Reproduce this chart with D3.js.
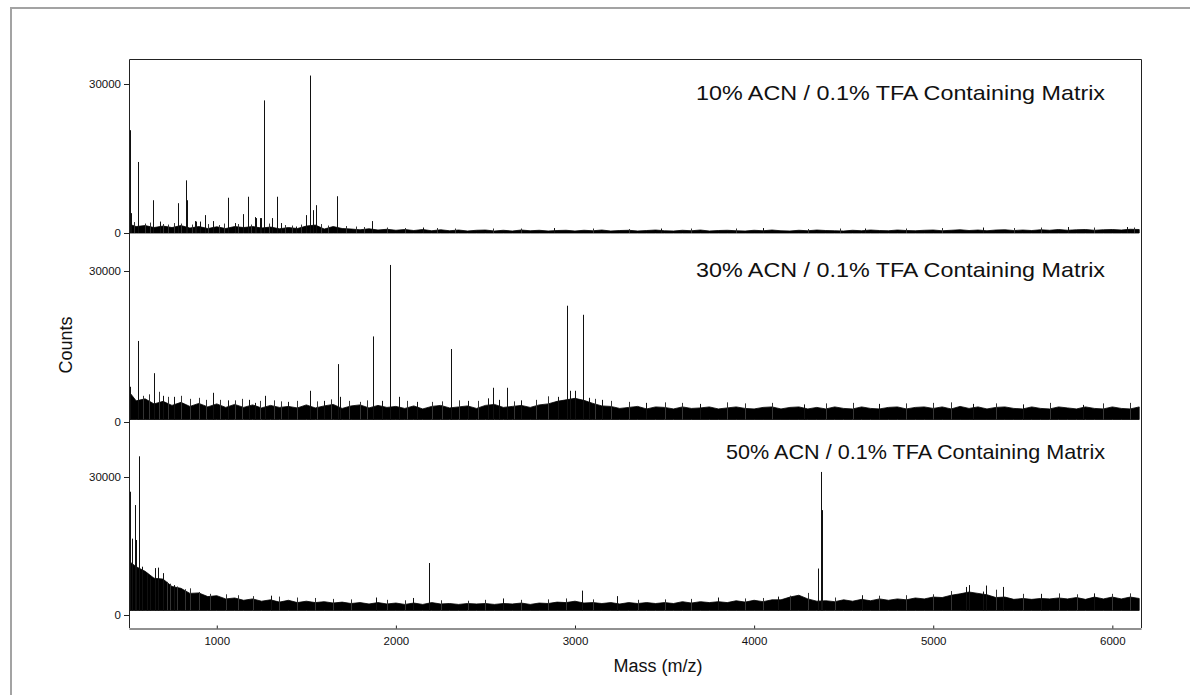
<!DOCTYPE html>
<html>
<head>
<meta charset="utf-8">
<script src="https://cdn.jsdelivr.net/npm/d3@7"></script>
<style>
  body { margin: 0; background: #fff; }
  svg { display: block; font-family: "Liberation Sans", Arial, sans-serif; }
</style>
</head>
<body>
<svg id="chart" width="1190" height="695"></svg>
<script>
// ---- data ----
var massTicks = [1000, 2000, 3000, 4000, 5000, 6000];
var countTicks = [0, 30000];
var panelTitles = [
  "10% ACN / 0.1% TFA Containing Matrix",
  "30% ACN / 0.1% TFA Containing Matrix",
  "50% ACN / 0.1% TFA Containing Matrix"
];

// noise band: top of the baseline, one value every 50 Da from m/z 500
var noiseStart = 500, noiseStep = 50;
var noise10 = [
  1900, 1300, 1500, 1100, 1400, 1100, 1500, 1000, 1300, 900,
  1250, 900, 1300, 1100, 1300, 1000, 1200, 850, 1100, 900,
  1400, 1600, 800, 1300, 900, 800, 650, 850, 600, 750,
  550, 700, 500, 700, 450, 650, 450, 600, 400, 550,
  600, 400, 550, 400, 600, 450, 550, 400, 500, 550,
  400, 550, 450, 600, 400, 500, 550, 400, 500, 600,
  450, 400, 550, 450, 600, 400, 500, 550, 450, 400,
  550, 450, 600, 450, 400, 550, 450, 600, 500, 450,
  400, 550, 450, 600, 500, 450, 600, 500, 450, 550,
  600, 450, 550, 650, 500, 600, 450, 600, 650, 500,
  600, 500, 650, 550, 700, 550, 650, 700, 550, 650,
  700, 600, 750, 700
];
var noise30 = [
  6500, 4200, 4600, 3600, 4100, 3300, 3900, 3100, 3700, 3000,
  3600, 2900, 3500, 2900, 3400, 2800, 3300, 2900, 3100, 2800,
  3400, 2800, 3200, 3500, 2700, 3200, 3400, 2800, 3300, 2900,
  3100, 2700, 3200, 2600, 3100, 3300, 2800, 3000, 3200, 2700,
  3300, 3500, 2900, 3100, 3300, 2900, 3400, 3600, 4100, 4400,
  4700, 4300, 3700, 3200, 3100, 2700, 2900, 3100, 2600, 3000,
  2900, 2600, 3000, 2700, 2800, 3000, 2600, 2800, 3000, 2700,
  2600, 2900, 3000, 2600, 2900, 3000, 2600, 2900, 2600, 3000,
  2700, 2600, 3000, 2700, 2600, 2900, 3000, 2600, 2900, 3000,
  2700, 3000, 2600, 3100, 2700, 3000, 2600, 2900, 3000, 2700,
  2600, 3000, 2700, 2600, 3000, 2800, 2600, 3000, 2700, 2600,
  3000, 2700, 2600, 3000
];
var noise50 = [
  12000, 10500, 9500, 8000, 7800, 6200, 5800, 4700, 4800, 4000,
  4200, 3500, 3700, 3200, 3500, 3000, 3300, 2800, 3200, 2700,
  3000, 2700, 2900, 2600, 2800, 2500, 2700, 2400, 2700, 2400,
  2600, 2300, 2600, 2300, 2700, 2400, 2500, 2300, 2500, 2400,
  2500, 2300, 2500, 2400, 2600, 2300, 2600, 2500, 2800, 2700,
  3000, 2600, 2700, 2500, 2700, 2400, 2700, 2500, 2700, 2500,
  2700, 2500, 2900, 2600, 2900, 2700, 2900, 2700, 3100, 2800,
  3200, 2900, 3300, 3300, 3900, 4300, 3500, 3000, 3100, 2900,
  3300, 3000, 3400, 3100, 3500, 3200, 3500, 3300, 3700, 3500,
  3900, 3800, 4300, 4600, 5000, 4700, 4400, 3800, 3900, 3400,
  3600, 3400, 3600, 3500, 3700, 3500, 3800, 3400, 3900, 3500,
  3900, 3500, 3900, 3600
];
// bottom of the noise band (baseline offset), counts
var floor10 = 0, floor30 = 500, floor50 = 1000;

// main peaks: [m/z, counts]
var peaks10 = [
  [513, 20700], [520, 4000], [559, 14300], [646, 6600], [683, 2300], [782, 6000],
  [828, 10600], [833, 6600], [880, 2400], [884, 2300], [906, 2300], [933, 3600],
  [977, 2400], [1064, 7100], [1102, 2000], [1148, 3800], [1176, 7300], [1213, 3200],
  [1219, 3000], [1241, 3000], [1247, 3000], [1265, 26700], [1310, 3000], [1335, 7300],
  [1359, 2000], [1445, 1300], [1498, 3600], [1520, 31700], [1537, 4600], [1554, 5600],
  [1670, 7400], [1674, 3300], [1868, 2400], [2150, 1100], [2880, 1000], [3480, 900],
  [4050, 1000], [4620, 900], [5280, 1100], [5750, 1200], [6080, 1200]
];
var peaks30 = [
  [512, 21300], [518, 7000], [562, 16100], [650, 9700], [700, 5200], [760, 5000],
  [981, 5800], [1060, 4300], [1182, 4400], [1213, 3800], [1269, 5200], [1400, 4000],
  [1520, 6200], [1600, 4200], [1675, 11500], [1690, 5000], [1870, 17000], [1920, 4200],
  [1967, 31200], [2017, 5000], [2120, 4000], [2308, 14500], [2400, 4200], [2516, 4700],
  [2544, 6800], [2574, 4400], [2619, 6800], [2700, 4300], [2907, 5000], [2954, 23100],
  [2972, 6200], [2998, 6200], [3043, 21300], [3080, 4800], [3149, 4400], [3397, 3800],
  [3700, 3600], [4280, 3500], [4700, 3600], [5222, 3600], [5500, 3500], [5836, 3400]
];
var peaks50 = [
  [517, 26800], [527, 16600], [543, 23900], [549, 16300], [564, 34500], [581, 10500],
  [609, 9100], [627, 8000], [655, 10200], [674, 10300], [701, 9100], [760, 6500],
  [1300, 4200], [1890, 3800], [2097, 3700], [2187, 11300], [2600, 3600], [3037, 5300],
  [3236, 4100], [3800, 3800], [4133, 4000], [4358, 10100], [4373, 31100], [4380, 22800],
  [4600, 4300], [5183, 6100], [5201, 6500], [5277, 5100], [5294, 6400], [5391, 6100],
  [5600, 4600], [5900, 4700]
];

// small baseline spikes ("grass"): [m/z, counts]
var grass10 = [
  [540, 2200], [600, 1900], [625, 2100], [700, 1800], [730, 1700], [760, 2000],
  [800, 1900], [860, 1700], [950, 1800], [1010, 1600], [1040, 1900], [1120, 1800],
  [1190, 1700], [1290, 1900], [1380, 1600], [1420, 1500], [1470, 1700], [1580, 1800],
  [1620, 1500], [1720, 1400], [1780, 1300], [1820, 1200], [1950, 1100], [2050, 1000],
  [2230, 1000], [2330, 900], [2540, 900], [2700, 900], [3100, 900], [3300, 800],
  [3650, 900], [3900, 900], [4300, 800], [4480, 900], [4850, 900], [5050, 1000],
  [5450, 1000], [5600, 1100], [5900, 1100], [6120, 1100]
];
var grass30 = [
  [590, 5200], [620, 5500], [680, 6000], [730, 5000], [800, 5200], [850, 4600],
  [900, 4800], [940, 4400], [1020, 4400], [1100, 4300], [1140, 4600], [1240, 4200],
  [1320, 4300], [1360, 4100], [1450, 4200], [1560, 4100], [1640, 4500], [1740, 4200],
  [1800, 4000], [1840, 4300], [2060, 4200], [2200, 4000], [2260, 4100], [2350, 4300],
  [2460, 4200], [2660, 4100], [2780, 4400], [2850, 5100], [3110, 4600], [3200, 4200],
  [3300, 4000], [3500, 3900], [3600, 3800], [3850, 3900], [3950, 3700], [4100, 3800],
  [4400, 3700], [4550, 3800], [4850, 3700], [5000, 3800], [5100, 3900], [5350, 3700],
  [5650, 3800], [5950, 3700], [6100, 3800]
];
var grass50 = [
  [720, 7200], [740, 6800], [780, 6200], [820, 5600], [850, 5800], [900, 5000],
  [960, 4600], [1050, 4500], [1120, 4300], [1200, 4100], [1350, 4000], [1450, 3800],
  [1550, 3700], [1650, 3500], [1750, 3400], [1950, 3300], [2050, 3200], [2250, 3200],
  [2400, 3100], [2500, 3300], [2700, 3300], [2850, 3400], [2950, 3600], [3100, 3400],
  [3350, 3300], [3500, 3400], [3650, 3500], [3950, 3600], [4050, 3700], [4200, 4200],
  [4300, 4800], [4450, 3800], [4700, 4200], [4850, 4300], [5000, 4500], [5100, 5200],
  [5350, 5500], [5500, 4600], [5700, 4700], [5800, 4500], [6000, 4600], [6100, 4700]
];

// ---- layout ----
var svg = d3.select("#chart");

var x = d3.scaleLinear()
    .domain([510, 6160])
    .range([129, 1141]);

var layout = [
  {top: 84, zero: 233, titleY: 100, titleW: 409},
  {top: 271, zero: 422, titleY: 277, titleW: 409},
  {top: 477, zero: 615, titleY: 459, titleW: 379}
];

var series = [
  {title: panelTitles[0], noise: noise10, floor: floor10, peaks: peaks10, grass: grass10},
  {title: panelTitles[1], noise: noise30, floor: floor30, peaks: peaks30, grass: grass30},
  {title: panelTitles[2], noise: noise50, floor: floor50, peaks: peaks50, grass: grass50}
];

// grey figure border (only left and top are in frame)
svg.append("path")
    .attr("d", "M11,700V8H1200")
    .attr("fill", "none")
    .attr("stroke", "#a3a3a3")
    .attr("stroke-width", 2);

svg.append("defs").append("clipPath")
    .attr("id", "plot")
  .append("rect")
    .attr("x", 130)
    .attr("y", 40)
    .attr("width", 1010)
    .attr("height", 588);

function sticks(g, data, y, floor, colour) {
  g.selectAll(null)
    .data(data)
    .enter()
    .append("line")
      .attr("x1", function(d) { return Math.round(x(d[0])) + 0.5; })
      .attr("x2", function(d) { return Math.round(x(d[0])) + 0.5; })
      .attr("y1", y(floor))
      .attr("y2", function(d) { return y(d[1]); })
      .attr("stroke", colour)
      .attr("stroke-width", 1);
}

series.forEach(function(s, i) {
  var L = layout[i];
  var y = d3.scaleLinear()
      .domain([0, 30000])
      .range([L.zero, L.top]);

  var g = svg.append("g").attr("clip-path", "url(#plot)");

  // noise band
  var band = d3.area()
      .x(function(d, j) { return x(noiseStart + j * noiseStep); })
      .y0(y(s.floor))
      .y1(function(d) { return y(d); });
  g.append("path")
      .datum(s.noise)
      .attr("d", band)
      .attr("fill", "#000")
      .attr("stroke", "#000")
      .attr("stroke-width", 0.8);

  sticks(g, s.grass, y, s.floor, "#333");
  sticks(g, s.peaks, y, s.floor, "#111");

  // y axis ticks
  var ya = svg.append("g")
      .attr("transform", "translate(129,0)")
      .call(d3.axisLeft(y).tickValues(countTicks).tickSize(5).tickPadding(3).tickFormat(d3.format("d")));
  ya.select(".domain").remove();
  ya.selectAll("text").attr("font-size", 11.5).attr("font-family", "Liberation Sans, Arial, sans-serif").attr("fill", "#111");
  ya.selectAll("line").attr("stroke", "#222");

  // panel title
  svg.append("text")
      .attr("x", 1105)
      .attr("y", L.titleY)
      .attr("text-anchor", "end")
      .attr("font-size", 21)
      .attr("textLength", L.titleW)
      .attr("lengthAdjust", "spacingAndGlyphs")
      .attr("fill", "#111")
      .text(s.title);
});

// frame: left axis, top, right
svg.append("path")
    .attr("d", "M129.5,628V59.5H1141.5V628")
    .attr("fill", "none")
    .attr("stroke", "#222")
    .attr("stroke-width", 1);

// x axis
var xa = svg.append("g")
    .attr("transform", "translate(0,628.5)")
    .call(d3.axisBottom(x).tickValues(massTicks).tickSizeInner(-3).tickSizeOuter(0).tickPadding(8).tickFormat(d3.format("d")));
xa.selectAll("text").attr("font-size", 11.5).attr("font-family", "Liberation Sans, Arial, sans-serif").attr("fill", "#111");
xa.selectAll("line, path").attr("stroke", "#222");

svg.append("text")
    .attr("x", 658)
    .attr("y", 672)
    .attr("text-anchor", "middle")
    .attr("font-size", 18)
    .attr("fill", "#111")
    .text("Mass (m/z)");

svg.append("text")
    .attr("transform", "translate(72,345) rotate(-90)")
    .attr("text-anchor", "middle")
    .attr("font-size", 18)
    .attr("fill", "#111")
    .text("Counts");
</script>
</body>
</html>
